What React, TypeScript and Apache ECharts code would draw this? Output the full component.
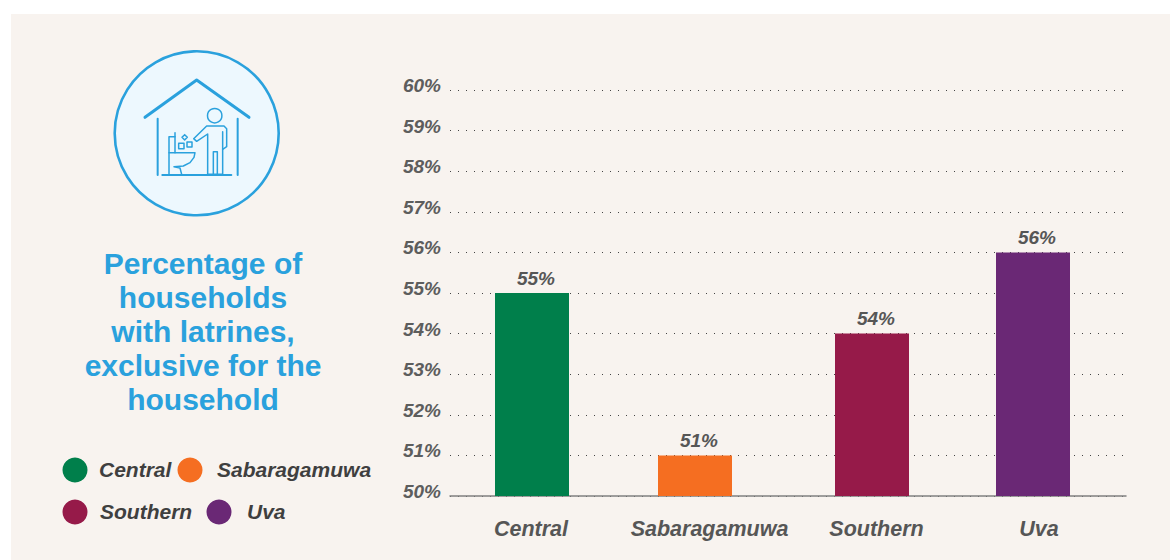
import React, { useEffect, useRef } from "react";
import * as echarts from "echarts";

const categories = ["Central", "Sabaragamuwa", "Southern", "Uva"];
const values = [55, 51, 54, 56];
const barColors = ["#007f4b", "#f56e21", "#961a49", "#6a2875"];
const titleLines = ["Percentage of", "households", "with latrines,", "exclusive for the", "household"];

const BLUE = "#2aa1dd";
const FONT = '"Liberation Sans", Arial, sans-serif';
const BAR_SHIFT = [-2.5, -8.5, -0.5, -8.5];
const LABEL_SHIFT = [{ padding: [0, 7, 0, 0] }, { padding: [0, 0, 0, 12] }, { padding: [0, 0, 0, 8] }, { padding: [0, 5, 0, 0] }];

const zp = (p: number[][]) => p.map(([x, y]) => [100 + x / 3, 40 + y / 3]);
const icoLine = (pts: number[][], w = 1.5) => ({
  type: "polyline",
  shape: { points: zp(pts) },
  style: { stroke: BLUE, lineWidth: w, fill: "none", lineJoin: "round", lineCap: "round" },
});

function iconElements(): any[] {
  return [
    { type: "circle", shape: { cx: 196.7, cy: 133.3, r: 82 }, style: { fill: "#edf8fe", stroke: BLUE, lineWidth: 2.6 } },
    icoLine([[135, 232], [290, 120], [447, 232]], 3),
    icoLine([[173, 236], [173, 405]], 2),
    icoLine([[413, 236], [413, 405]], 2),
    icoLine([[187, 405], [394, 405]], 2),
    { type: "circle", shape: { cx: 214.7, cy: 115.7, r: 7.2 }, style: { fill: "none", stroke: BLUE, lineWidth: 1.5 } },
    icoLine([[323, 403], [323, 282], [290, 304], [281, 296], [320, 258], [372, 258], [380, 266], [380, 320], [368, 328]]),
    icoLine([[368, 275], [368, 403], [323, 403]]),
    icoLine([[340, 403], [340, 335], [352, 335], [352, 403]]),
    icoLine([[225, 278], [225, 338]]),
    icoLine([[225, 290], [207, 290], [207, 403]]),
    icoLine([[207, 338], [285, 338], [282, 352], [270, 368], [250, 378], [222, 380], [240, 384], [245, 403]]),
    icoLine([[236, 310], [252, 310], [252, 326], [236, 326], [236, 310]]),
    icoLine([[261, 306], [276, 306], [276, 321], [261, 321], [261, 306]]),
    icoLine([[254, 284], [262, 292], [254, 300], [246, 292], [254, 284]]),
  ];
}

function legendElements(): any[] {
  const spots = [
    { cx: 75, cy: 470, tx: 99 },
    { cx: 190, cy: 470, tx: 217 },
    { cx: 75, cy: 512, tx: 100 },
    { cx: 219, cy: 512, tx: 247 },
  ];
  const out: any[] = [];
  spots.forEach((s, i) => {
    out.push({ type: "circle", shape: { cx: s.cx, cy: s.cy, r: 12.5 }, style: { fill: barColors[i] } });
    out.push({
      type: "text",
      x: s.tx,
      y: s.cy - 1,
      style: { text: categories[i], fill: "#3f3f3f", font: `italic bold 21px ${FONT}`, verticalAlign: "middle", align: "left" },
    });
  });
  return out;
}

export default function App() {
  const ref = useRef<HTMLDivElement>(null);
  useEffect(() => {
    const chart = echarts.init(ref.current!, undefined, { renderer: "svg" });
    const rich: any = {};
    categories.forEach((_, i) => {
      rich["c" + i] = {
        fontFamily: FONT,
        fontStyle: "italic",
        fontWeight: "bold",
        fontSize: 21.5,
        color: "#565656",
        ...LABEL_SHIFT[i],
      };
    });
    chart.setOption({
      animation: false,
      backgroundColor: "#ffffff",
      grid: { left: 450, right: 44, top: 90, bottom: 64 },
      xAxis: {
        type: "category",
        data: categories,
        axisTick: { show: false },
        axisLine: { lineStyle: { color: "#808080", width: 1.5 } },
        axisLabel: {
          margin: 22,
          interval: 0,
          formatter: (v: string) => `{c${categories.indexOf(v)}|${v}}`,
          rich,
        },
      },
      yAxis: {
        type: "value",
        min: 50,
        max: 60,
        interval: 1,
        axisLine: { show: false },
        axisTick: { show: false },
        axisLabel: {
          formatter: "{value}%",
          fontFamily: FONT,
          fontStyle: "italic",
          fontWeight: "bold",
          fontSize: 19,
          color: "#5d5d5d",
          margin: 9,
          verticalAlign: "bottom",
          lineHeight: 9,
        },
        splitLine: { lineStyle: { color: "#444444", width: 1, type: [1, 7] } },
      },
      graphic: [
        { type: "rect", z: -10, shape: { x: 11, y: 14, width: 1159, height: 546 }, style: { fill: "#f8f3ef" } },
        ...iconElements(),
        ...titleLines.map((t, i) => ({
          type: "text",
          x: 203,
          y: 263 + i * 34.2,
          style: { text: t, fill: BLUE, font: `bold 30px ${FONT}`, align: "center", verticalAlign: "middle" },
        })),
        ...legendElements(),
      ],
      series: [
        {
          type: "custom",
          name: "Households with exclusive latrines",
          data: values.map((v, i) => [i, v]),
          encode: { x: 0, y: 1 },
          z: 5,
          renderItem: (_p: any, api: any) => {
            const idx = api.value(0);
            const val = api.value(1);
            const top = api.coord([idx, val]);
            const base = api.coord([idx, 50]);
            const cx = top[0] + BAR_SHIFT[idx];
            const w = 74;
            return {
              type: "group",
              children: [
                { type: "rect", shape: { x: cx - w / 2, y: top[1], width: w, height: base[1] - top[1] }, style: { fill: barColors[idx] } },
                {
                  type: "text",
                  style: {
                    x: cx + 4,
                    y: top[1] - 15,
                    text: `${val}%`,
                    fill: "#565656",
                    font: `italic bold 19px ${FONT}`,
                    align: "center",
                    verticalAlign: "middle",
                  },
                },
              ],
            };
          },
        },
      ],
    });
    return () => chart.dispose();
  }, []);
  return <div ref={ref} style={{ position: "fixed", left: 0, top: 0, width: 1170, height: 560 }} />;
}
